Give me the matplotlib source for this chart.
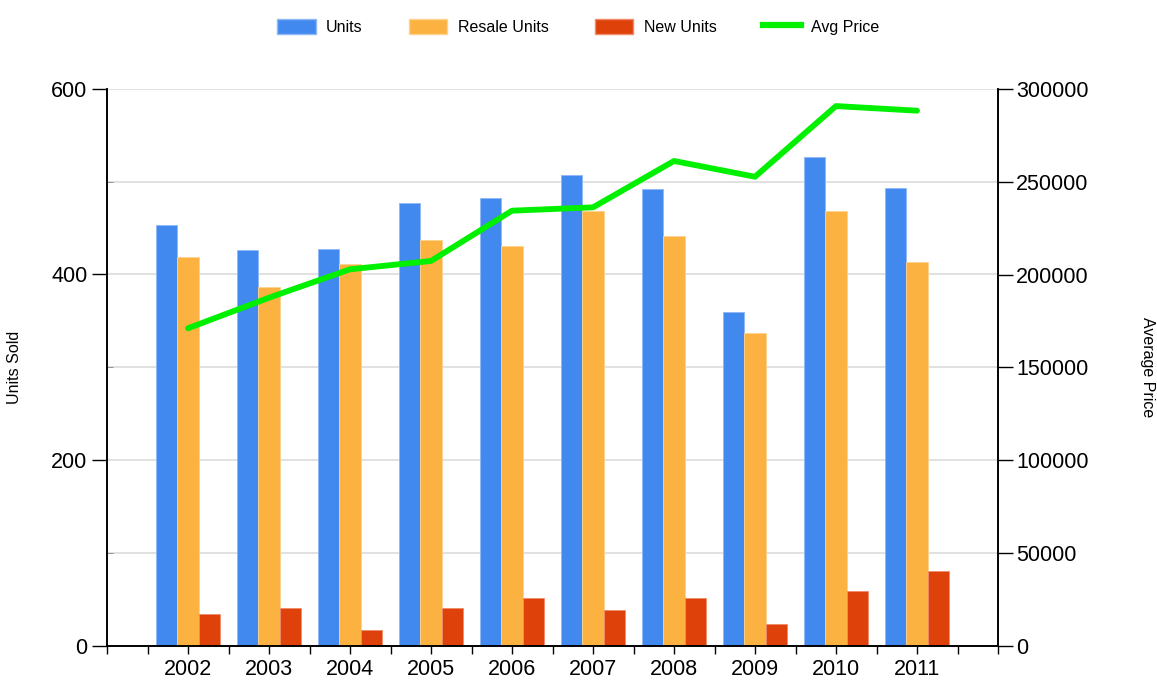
import matplotlib
matplotlib.use("Agg")
import matplotlib.pyplot as plt
import numpy as np
from matplotlib.patches import Patch
from matplotlib.lines import Line2D

years = ["2002", "2003", "2004", "2005", "2006", "2007", "2008", "2009", "2010", "2011"]
units = [453, 426, 428, 477, 482, 507, 492, 360, 527, 493]
resale_units = [419, 386, 411, 437, 431, 469, 441, 337, 468, 413]
new_units = [34, 40, 17, 40, 51, 38, 51, 23, 59, 80]
avg_price = [171000, 187500, 202800, 207300, 234400, 236200, 261200, 252700, 290800, 288300]

c_units = "#4189EE"
c_resale = "#FBB241"
c_new = "#DF410B"
c_line = "#00F000"

plt.rcParams['font.family'] = ['Liberation Sans', 'DejaVu Sans']

fig = plt.figure(figsize=(11.57, 6.81), dpi=100)
ax = fig.add_axes([107/1157, 1 - 645.5/681, (998-107)/1157, (645.5-89)/681])
ax2 = ax.twinx()

x = np.arange(len(years))
w = 0.265
ax.bar(x - w, units, w, color=c_units, edgecolor="#8fb8f5", linewidth=0.6, zorder=2)
ax.bar(x, resale_units, w, color=c_resale, edgecolor="#fdd28f", linewidth=0.6, zorder=2)
ax.bar(x + w, new_units, w, color=c_new, edgecolor="#f08a6a", linewidth=0.6, zorder=2)

ax2.plot(x, avg_price, color=c_line, linewidth=4.2, solid_capstyle='round', solid_joinstyle='round', zorder=3)

ax.set_xlim(-1, 10)
ax.set_ylim(0, 600)
ax2.set_ylim(0, 300000)

ax.set_yticks([0, 200, 400, 600])
ax.set_yticks([100, 300, 500], minor=True)
ax.yaxis.grid(True, which='both', color='#dcdcdc', linewidth=1.2)
ax.set_axisbelow(True)
ax.tick_params(axis='y', which='major', direction='out', length=11, width=1, labelsize=15.5, pad=3, colors='black')
ax.tick_params(axis='y', which='minor', direction='in', length=4, width=0.6, colors='#888888')

ax.set_xticks(x)
ax.set_xticklabels(years)
ax.set_xticks(np.arange(-1, 10.01, 0.5), minor=True)
ax.tick_params(axis='x', which='major', direction='out', length=6, width=1, labelsize=15.5, pad=4)
ax.tick_params(axis='x', which='minor', direction='out', length=6, width=1)

ax2.set_yticks(np.arange(0, 300001, 50000))
ax2.set_yticklabels([str(v) for v in range(0, 300001, 50000)])
ax2.tick_params(axis='y', direction='out', length=11, width=1, labelsize=15.5, pad=2)

for a in (ax, ax2):
    a.spines['top'].set_visible(False)
    for s in ('left', 'right', 'bottom'):
        a.spines[s].set_color('black')
        a.spines[s].set_linewidth(1.2)

ax.set_ylabel("Units Sold", fontsize=11.5)
ax.yaxis.set_label_coords((22-107)/891, 0.5)
ax2.set_ylabel("Average Price", fontsize=11.5, rotation=270, va='center')
ax2.yaxis.set_label_coords((1147-107)/891, 0.5)

handles = [
    Patch(facecolor=c_units, edgecolor="#8fb8f5"),
    Patch(facecolor=c_resale, edgecolor="#fdd28f"),
    Patch(facecolor=c_new, edgecolor="#f08a6a"),
    Line2D([0], [0], color=c_line, linewidth=4.5),
]
labels = ["Units", "Resale Units", "New Units", "Avg Price"]
fig.legend(handles, labels, loc='center', bbox_to_anchor=(0.5, 1 - 27/681), ncol=4,
           frameon=False, fontsize=11.5, handlelength=2.4, handleheight=1.1,
           handletextpad=0.65, columnspacing=2.9)

fig.savefig("out.png", dpi=100)
